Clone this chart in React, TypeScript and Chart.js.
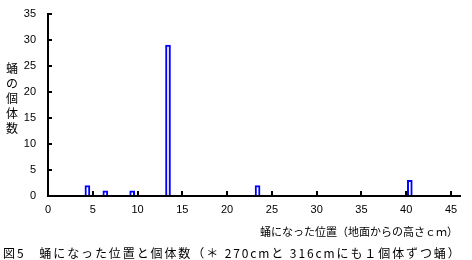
import React, { useEffect, useRef } from 'react';
import { Chart, registerables } from 'chart.js';

Chart.register(...registerables);

// Data
const heightsCm = [4, 6, 9, 13, 23, 40];
const pupaCounts = [2, 1, 1, 29, 2, 3];
const xTickStep = 5;
const xMax = 45;
const yTickStep = 5;
const yMax = 35;

const yTitle = '蛹の個体数';
const xTitle = '蛹になった位置（地面からの高さｃｍ）';
const caption = '図5　蛹になった位置と個体数（＊ 270cmと 316cmにも１個体ずつ蛹）';

const BIN_OFFSET = 0.4;

const axesPlugin = {
  id: 'insideAxes',
  afterDatasetsDraw(chart: any) {
    const { ctx, chartArea, scales } = chart;
    const xs = scales.x;
    const ys = scales.y;
    const left = chartArea.left;
    const bottom = chartArea.bottom;
    ctx.save();
    ctx.fillStyle = '#000';
    // y axis line
    ctx.fillRect(left - 1, chartArea.top, 2, bottom - chartArea.top + 1);
    // x axis line
    ctx.fillRect(left - 1, bottom - 1, chartArea.right + 10 - (left - 1), 2);
    // x ticks (inside, upward)
    for (let v = xTickStep; v <= xMax; v += xTickStep) {
      const px = Math.round(xs.getPixelForValue(v));
      ctx.fillRect(px - 1, bottom - 5, 2, 5);
    }
    // y ticks (inside, rightward)
    for (let v = yTickStep; v <= yMax; v += yTickStep) {
      const py = Math.round(ys.getPixelForValue(v));
      ctx.fillRect(left - 1, py - 1, 5, 2);
    }
    ctx.restore();
  },
};

export default function App() {
  const canvasRef = useRef<HTMLCanvasElement | null>(null);

  useEffect(() => {
    const canvas = canvasRef.current;
    if (!canvas) return;
    const data = heightsCm.map((h, i) => ({ x: h + BIN_OFFSET, y: pupaCounts[i] }));
    const chart = new Chart(canvas, {
      type: 'bar',
      data: {
        datasets: [
          {
            data: data as any,
            backgroundColor: '#ffffff',
            borderColor: '#0000ff',
            borderWidth: 2,
            barThickness: 5,
          },
        ],
      },
      plugins: [axesPlugin],
      options: {
        animation: false,
        responsive: false,
        devicePixelRatio: 1,
        layout: { padding: { left: 0, right: 21, top: 14, bottom: 0 } },
        plugins: { legend: { display: false }, tooltip: { enabled: false } },
        scales: {
          x: {
            type: 'linear',
            min: 0,
            max: xMax,
            offset: false,
            grid: { display: false, drawTicks: false },
            border: { display: false },
            ticks: {
              stepSize: xTickStep,
              color: '#000',
              font: { family: "'Liberation Sans', sans-serif", size: 11 },
              padding: 7,
              maxRotation: 0,
              autoSkip: false,
            },
            afterFit: (s: any) => {
              s.height = 64;
              s.paddingLeft = 0;
              s.paddingRight = 0;
            },
          },
          y: {
            min: 0,
            max: yMax,
            grid: { display: false, drawTicks: false },
            border: { display: false },
            ticks: {
              stepSize: yTickStep,
              color: '#000',
              font: { family: "'Liberation Sans', sans-serif", size: 11 },
              padding: 12,
            },
            afterFit: (s: any) => {
              s.width = 48;
              s.paddingTop = 0;
              s.paddingBottom = 0;
            },
          },
        },
      },
    });
    return () => chart.destroy();
  }, []);

  const jp = "'Noto Sans CJK JP', sans-serif";

  return (
    <div
      style={{
        position: 'fixed',
        left: 0,
        top: 0,
        width: 472,
        height: 260,
        background: '#fff',
        overflow: 'hidden',
      }}
    >
      <canvas ref={canvasRef} width={472} height={260} style={{ display: 'block' }} />
      <div
        style={{
          position: 'absolute',
          left: 5,
          top: 60,
          width: 14,
          fontFamily: jp,
          fontSize: 12,
          lineHeight: '15px',
          textAlign: 'center',
          color: '#000',
          wordBreak: 'break-all',
        }}
      >
        {yTitle}
      </div>
      <div
        style={{
          position: 'absolute',
          left: 260,
          top: 224,
          fontFamily: jp,
          fontSize: 11,
          lineHeight: '14px',
          whiteSpace: 'nowrap',
          color: '#000',
        }}
      >
        {xTitle}
      </div>
      <div
        style={{
          position: 'absolute',
          left: 3,
          top: 245,
          fontFamily: jp,
          fontSize: 12,
          lineHeight: '15px',
          whiteSpace: 'nowrap',
          letterSpacing: '1.9px',
          color: '#000',
        }}
      >
        {caption}
      </div>
    </div>
  );
}
